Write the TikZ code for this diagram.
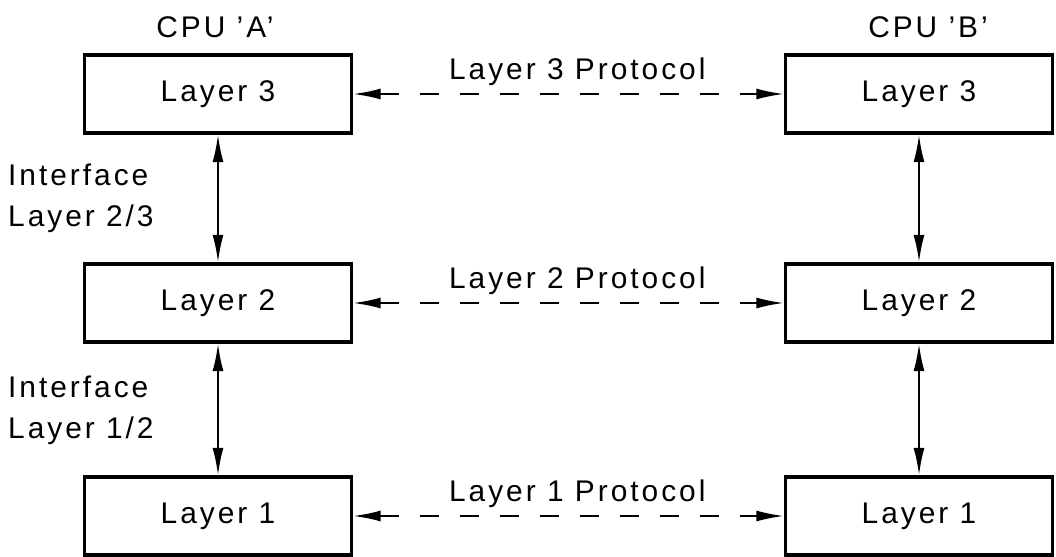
\documentclass[tikz,border=0pt]{standalone}
\usepackage{fontspec}
\setmainfont{Liberation Sans}[LetterSpace=10]
\usetikzlibrary{arrows.meta}

\begin{document}
\begin{tikzpicture}[x=0.02cm,y=-0.02cm,
    font=\fontsize{17}{23.3}\selectfont,
    layerbox/.style={draw,line width=1.9pt,minimum width=5.34cm,minimum height=1.56cm},
    iface/.style={line width=1.2pt,{Latex[length=5.5mm,width=2.2mm]}-{Latex[length=5.5mm,width=2.2mm]}},
    peer/.style={iface,dash pattern=on 0.38cm off 0.42cm}]
    \useasboundingbox (0,0) rectangle (1056,557);
    % CPU A
    \node (cpua) at (215,27) {CPU 'A'};
    \node[layerbox] (a3) at (218,94) {Layer 3};
    \node[layerbox] (a2) at (218,303) {Layer 2};
    \node[layerbox] (a1) at (218,516) {Layer 1};
    % CPU B
    \node (cpub) at (928,27) {CPU 'B'};
    \node[layerbox] (b3) at (919,94) {Layer 3};
    \node[layerbox] (b2) at (919,303) {Layer 2};
    \node[layerbox] (b1) at (919,516) {Layer 1};
    % interfaces
    \node[anchor=west,align=left] (if23) at (2,198) {Interface\\Layer 2/3};
    \node[anchor=west,align=left] (if12) at (2,410) {Interface\\Layer 1/2};
    \draw[iface] (a3) -- (a2);
    \draw[iface] (a2) -- (a1);
    \draw[iface] (b3) -- (b2);
    \draw[iface] (b2) -- (b1);
    % protocols
    \draw[peer] (a3) -- node[above=1pt,xshift=5] {Layer 3 Protocol} (b3);
    \draw[peer] (a2) -- node[above=1pt,xshift=5] {Layer 2 Protocol} (b2);
    \draw[peer] (a1) -- node[above=1pt,xshift=5] {Layer 1 Protocol} (b1);
\end{tikzpicture}
\end{document}
